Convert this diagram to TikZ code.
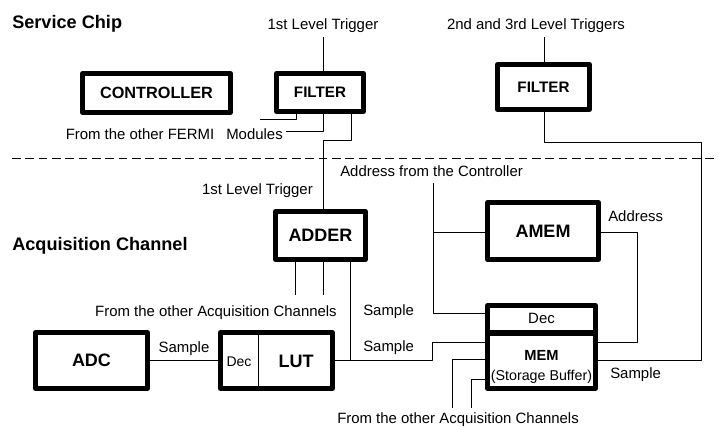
\documentclass[tikz,border=0pt]{standalone}
\usepackage{fontspec}
\setmainfont{Liberation Sans}

\begin{document}
\begin{tikzpicture}[x=0.75pt,y=-0.75pt,line join=round,
  wire/.style={line width=0.7pt},
  bname/.style={font=\bfseries\fontsize{13.5}{16}\selectfont,text height=9.7pt,text depth=0pt},
  blk/.style={bname,draw,line width=4pt,inner sep=0pt},
  lbl/.style={inner sep=0pt,font=\fontsize{11.2}{13}\selectfont,text height=8pt,text depth=0pt},
  ttl/.style={anchor=west,inner sep=0pt,font=\bfseries\fontsize{13.6}{16}\selectfont,text height=9.8pt,text depth=0pt}]
\useasboundingbox (0,0) rectangle (718,426);
% titles
\node[ttl] (svc) at (12,22) {Service Chip};
\node[ttl] (acq) at (12,244) {Acquisition Channel};
% blocks
\node[blk,minimum width=110.8pt,minimum height=29pt,font=\bfseries\fontsize{12.2}{14}\selectfont,text height=8.7pt] (ctrl) at (156.5,93) {CONTROLLER};
\node[blk,minimum width=65pt,minimum height=28.3pt,font=\bfseries\fontsize{11.4}{14}\selectfont,text height=8.2pt] (filter1) at (320,92.5) {FILTER};
\node[blk,minimum width=68.8pt,minimum height=33.5pt,font=\bfseries\fontsize{11.4}{14}\selectfont,text height=8.2pt] (filter2) at (543.5,87) {FILTER};
\node[blk,minimum width=67.3pt,minimum height=35.8pt] (adder) at (320.5,235.5) {ADDER};
\node[blk,minimum width=83pt,minimum height=42.5pt] (amem) at (543,231) {AMEM};
\node[blk,minimum width=83.8pt,minimum height=41.8pt] (adc) at (91.5,360.5) {ADC};
\node[blk,minimum width=83.8pt,minimum height=41.8pt] (lut) at (276.5,360.5) {};
\node[blk,minimum width=80.8pt,minimum height=62pt] (mem) at (541.5,347) {};
% inside LUT and MEM
\coordinate (ld) at (258,360.5);
\draw[wire] (lut.north -| ld) -- (lut.south -| ld);
\node[lbl,font=\fontsize{10.5}{12}\selectfont,text height=7.5pt] (lutdec) at (239,361) {Dec};
\node[bname] (lutname) at (296,361) {LUT};
\coordinate (md) at (541.5,333);
\draw[line width=4pt] (mem.west |- md) -- (mem.east |- md);
\node[lbl] (memdec) at (541.5,318) {Dec};
\node[bname,font=\bfseries\fontsize{11}{13}\selectfont,text height=7.9pt] (memname) at (541.5,355) {MEM};
\node[lbl,font=\fontsize{10.7}{12}\selectfont,text height=7.7pt] (membuf) at (541.5,375) {(Storage Buffer)};
% labels
\node[lbl] (trig1) at (323,24) {1st Level Trigger};
\node[lbl] (trig2) at (536,24) {2nd and 3rd Level Triggers};
\node[lbl,anchor=east] (fermi) at (283,134) {From the other FERMI\hspace{9pt}Modules};
\node[lbl,anchor=east] (trig1b) at (313,189) {1st Level Trigger};
\node[lbl,anchor=west] (addrc) at (340,171) {Address from the Controller};
\node[lbl,anchor=west] (addr) at (608,216) {Address};
\node[lbl,anchor=east] (acq1) at (337,311) {From the other Acquisition Channels};
\node[lbl,anchor=west] (smpA) at (363,310) {Sample};
\node[lbl,anchor=west] (smpB) at (363,346) {Sample};
\node[lbl] (smpC) at (184,347) {Sample};
\node[lbl,anchor=west] (smpD) at (610,373) {Sample};
\node[lbl,anchor=west] (acq2) at (337,418) {From the other Acquisition Channels};
% chip / channel border
\coordinate (d1) at (12,158);
\coordinate (d2) at (718,158);
\draw[wire,dash pattern=on 6.5pt off 3.5pt] (d1) -- (d2);
% trigger inputs
\coordinate (t1) at (323,37);
\coordinate (t2) at (544,37);
\draw[wire] (t1) -- (filter1.north -| t1);
\draw[wire] (t2) -- (filter2.north -| t2);
% filter outputs
\coordinate (ka) at (296,119);
\coordinate (fa) at (260,119);
\coordinate (kb) at (323,131);
\coordinate (fb) at (286,131);
\coordinate (kc) at (351,140);
\coordinate (kd) at (323,140);
\draw[wire] (filter1.south -| ka) -- (ka) -- (fa);
\draw[wire] (filter1.south -| kb) -- (kb) -- (fb);
\draw[wire] (filter1.south -| kc) -- (kc) -- (kd) -- (adder.north -| kd);
% adder
\coordinate (aa) at (295,295);
\coordinate (ab) at (323,295);
\coordinate (ac) at (350,360.5);
\draw[wire] (adder.south -| aa) -- (aa);
\draw[wire] (adder.south -| ab) -- (ab);
\draw[wire] (adder.south -| ac) -- (ac);
% samples
\draw[wire] (adc) -- (lut);
\coordinate (la) at (432,360.5);
\coordinate (lb) at (432,342);
\draw[wire] (lut.east) -- (la) -- (lb) -- (mem.west |- lb);
% addresses
\coordinate (ca) at (433,183);
\coordinate (cb) at (433,313);
\coordinate (cc) at (433,232);
\draw[wire] (ca) -- (cb) -- (mem.west |- cb);
\draw[wire] (cc) -- (amem.west |- cc);
\coordinate (ma) at (637,232);
\coordinate (mb) at (637,342);
\draw[wire] (amem.east |- ma) -- (ma) -- (mb) -- (mem.east |- mb);
% storage buffer output
\coordinate (sa) at (701,360);
\coordinate (sb) at (701,142);
\coordinate (sc) at (544,142);
\draw[wire] (mem.east |- sa) -- (sa) -- (sb) -- (sc) -- (filter2.south -| sc);
% other channels
\coordinate (qa) at (452,359);
\coordinate (qb) at (452,408);
\coordinate (qc) at (471,379);
\coordinate (qd) at (471,408);
\draw[wire] (qb) -- (qa) -- (mem.west |- qa);
\draw[wire] (qd) -- (qc) -- (mem.west |- qc);
\end{tikzpicture}
\end{document}
